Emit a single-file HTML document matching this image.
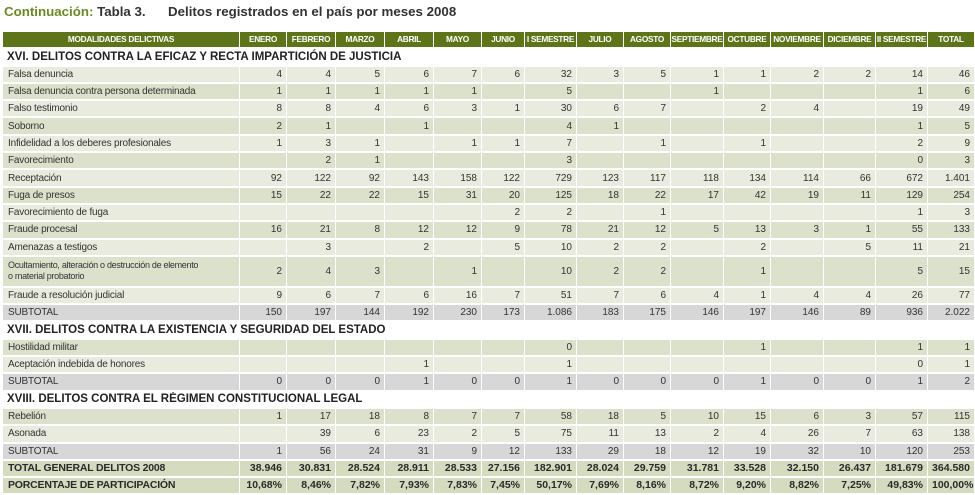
<!DOCTYPE html>
<html><head><meta charset="utf-8"><style>
body{margin:0;width:975px;height:493px;background:#fff;overflow:hidden;font-family:"Liberation Sans Narrow","Liberation Sans",sans-serif;color:#333}
.t{position:absolute;top:4px;left:4px;font:bold 13.3px "Liberation Sans",sans-serif;color:#333;white-space:nowrap}
.t .g{color:#6a8a1f}
table{position:absolute;left:3px;top:32px;border-collapse:separate;border-spacing:0;table-layout:fixed;width:972px}
td{height:15.3px;padding:0 4px 0 4px;border-right:1px solid #fff;border-bottom:2px solid #fff;font-size:10px;text-align:right;white-space:nowrap;overflow:hidden;line-height:11px}
td:first-child{text-align:left;padding-left:5px;letter-spacing:-0.2px}
tr.h td{background:#5e7418;color:#fff;font-weight:bold;text-align:center;font-size:8.3px;padding:0;letter-spacing:-0.3px}
tr.s td{background:#fff;text-align:left;font:bold 11.5px "Liberation Sans",sans-serif;color:#222;padding-left:4px;letter-spacing:0}
tr.l td{background:#e8ebdd}
tr.d td{background:#dce1cc}
tr.st td{background:#d7d7d7}
tr.tt td{background:#d5dbbf;font-weight:bold;font-size:10.5px;color:#2a2a2a}
tr.o td{height:29px}
</style></head><body>
<div class="t"><span class="g">Continuación:</span> Tabla 3.<span style="position:absolute;left:164px">Delitos registrados en el país por meses 2008</span></div>
<table>
<colgroup><col style="width:237px"><col style="width:47px"><col style="width:49px"><col style="width:49px"><col style="width:49px"><col style="width:48px"><col style="width:43px"><col style="width:52px"><col style="width:47px"><col style="width:47px"><col style="width:53px"><col style="width:47px"><col style="width:53px"><col style="width:52px"><col style="width:52px"><col style="width:47px"></colgroup>
<tr class="h"><td style="text-align:center;padding:0">MODALIDADES DELICTIVAS</td><td>ENERO</td><td>FEBRERO</td><td>MARZO</td><td>ABRIL</td><td>MAYO</td><td>JUNIO</td><td>I SEMESTRE</td><td>JULIO</td><td>AGOSTO</td><td>SEPTIEMBRE</td><td>OCTUBRE</td><td>NOVIEMBRE</td><td>DICIEMBRE</td><td>II SEMESTRE</td><td>TOTAL</td></tr>
<tr class="s"><td colspan="16">XVI. DELITOS CONTRA LA EFICAZ Y RECTA IMPARTICIÓN DE JUSTICIA</td></tr>
<tr class="l"><td>Falsa denuncia</td><td>4</td><td>4</td><td>5</td><td>6</td><td>7</td><td>6</td><td>32</td><td>3</td><td>5</td><td>1</td><td>1</td><td>2</td><td>2</td><td>14</td><td>46</td></tr>
<tr class="d"><td>Falsa denuncia contra persona determinada</td><td>1</td><td>1</td><td>1</td><td>1</td><td>1</td><td></td><td>5</td><td></td><td></td><td>1</td><td></td><td></td><td></td><td>1</td><td>6</td></tr>
<tr class="l"><td>Falso testimonio</td><td>8</td><td>8</td><td>4</td><td>6</td><td>3</td><td>1</td><td>30</td><td>6</td><td>7</td><td></td><td>2</td><td>4</td><td></td><td>19</td><td>49</td></tr>
<tr class="d"><td>Soborno</td><td>2</td><td>1</td><td></td><td>1</td><td></td><td></td><td>4</td><td>1</td><td></td><td></td><td></td><td></td><td></td><td>1</td><td>5</td></tr>
<tr class="l"><td>Infidelidad a los deberes profesionales</td><td>1</td><td>3</td><td>1</td><td></td><td>1</td><td>1</td><td>7</td><td></td><td>1</td><td></td><td>1</td><td></td><td></td><td>2</td><td>9</td></tr>
<tr class="d"><td>Favorecimiento</td><td></td><td>2</td><td>1</td><td></td><td></td><td></td><td>3</td><td></td><td></td><td></td><td></td><td></td><td></td><td>0</td><td>3</td></tr>
<tr class="l"><td>Receptación</td><td>92</td><td>122</td><td>92</td><td>143</td><td>158</td><td>122</td><td>729</td><td>123</td><td>117</td><td>118</td><td>134</td><td>114</td><td>66</td><td>672</td><td>1.401</td></tr>
<tr class="d"><td>Fuga de presos</td><td>15</td><td>22</td><td>22</td><td>15</td><td>31</td><td>20</td><td>125</td><td>18</td><td>22</td><td>17</td><td>42</td><td>19</td><td>11</td><td>129</td><td>254</td></tr>
<tr class="l"><td>Favorecimiento de fuga</td><td></td><td></td><td></td><td></td><td></td><td>2</td><td>2</td><td></td><td>1</td><td></td><td></td><td></td><td></td><td>1</td><td>3</td></tr>
<tr class="d"><td>Fraude procesal</td><td>16</td><td>21</td><td>8</td><td>12</td><td>12</td><td>9</td><td>78</td><td>21</td><td>12</td><td>5</td><td>13</td><td>3</td><td>1</td><td>55</td><td>133</td></tr>
<tr class="l"><td>Amenazas a testigos</td><td></td><td>3</td><td></td><td>2</td><td></td><td>5</td><td>10</td><td>2</td><td>2</td><td></td><td>2</td><td></td><td>5</td><td>11</td><td>21</td></tr>
<tr class="d o"><td style="font-size:9px;letter-spacing:-0.3px">Ocultamiento, alteración o destrucción de elemento<br>o material probatorio</td><td>2</td><td>4</td><td>3</td><td></td><td>1</td><td></td><td>10</td><td>2</td><td>2</td><td></td><td>1</td><td></td><td></td><td>5</td><td>15</td></tr>
<tr class="l"><td>Fraude a resolución judicial</td><td>9</td><td>6</td><td>7</td><td>6</td><td>16</td><td>7</td><td>51</td><td>7</td><td>6</td><td>4</td><td>1</td><td>4</td><td>4</td><td>26</td><td>77</td></tr>
<tr class="st"><td>SUBTOTAL</td><td>150</td><td>197</td><td>144</td><td>192</td><td>230</td><td>173</td><td>1.086</td><td>183</td><td>175</td><td>146</td><td>197</td><td>146</td><td>89</td><td>936</td><td>2.022</td></tr>
<tr class="s"><td colspan="16">XVII. DELITOS CONTRA LA EXISTENCIA Y SEGURIDAD DEL ESTADO</td></tr>
<tr class="d"><td>Hostilidad militar</td><td></td><td></td><td></td><td></td><td></td><td></td><td>0</td><td></td><td></td><td></td><td>1</td><td></td><td></td><td>1</td><td>1</td></tr>
<tr class="l"><td>Aceptación indebida de honores</td><td></td><td></td><td></td><td>1</td><td></td><td></td><td>1</td><td></td><td></td><td></td><td></td><td></td><td></td><td>0</td><td>1</td></tr>
<tr class="st"><td>SUBTOTAL</td><td>0</td><td>0</td><td>0</td><td>1</td><td>0</td><td>0</td><td>1</td><td>0</td><td>0</td><td>0</td><td>1</td><td>0</td><td>0</td><td>1</td><td>2</td></tr>
<tr class="s"><td colspan="16">XVIII. DELITOS CONTRA EL RÉGIMEN CONSTITUCIONAL LEGAL</td></tr>
<tr class="d"><td>Rebelión</td><td>1</td><td>17</td><td>18</td><td>8</td><td>7</td><td>7</td><td>58</td><td>18</td><td>5</td><td>10</td><td>15</td><td>6</td><td>3</td><td>57</td><td>115</td></tr>
<tr class="l"><td>Asonada</td><td></td><td>39</td><td>6</td><td>23</td><td>2</td><td>5</td><td>75</td><td>11</td><td>13</td><td>2</td><td>4</td><td>26</td><td>7</td><td>63</td><td>138</td></tr>
<tr class="st"><td>SUBTOTAL</td><td>1</td><td>56</td><td>24</td><td>31</td><td>9</td><td>12</td><td>133</td><td>29</td><td>18</td><td>12</td><td>19</td><td>32</td><td>10</td><td>120</td><td>253</td></tr>
<tr class="tt"><td>TOTAL GENERAL DELITOS 2008</td><td>38.946</td><td>30.831</td><td>28.524</td><td>28.911</td><td>28.533</td><td>27.156</td><td>182.901</td><td>28.024</td><td>29.759</td><td>31.781</td><td>33.528</td><td>32.150</td><td>26.437</td><td>181.679</td><td>364.580</td></tr>
<tr class="tt"><td>PORCENTAJE DE PARTICIPACIÓN</td><td>10,68%</td><td>8,46%</td><td>7,82%</td><td>7,93%</td><td>7,83%</td><td>7,45%</td><td>50,17%</td><td>7,69%</td><td>8,16%</td><td>8,72%</td><td>9,20%</td><td>8,82%</td><td>7,25%</td><td>49,83%</td><td>100,00%</td></tr>
</table>
</body></html>
